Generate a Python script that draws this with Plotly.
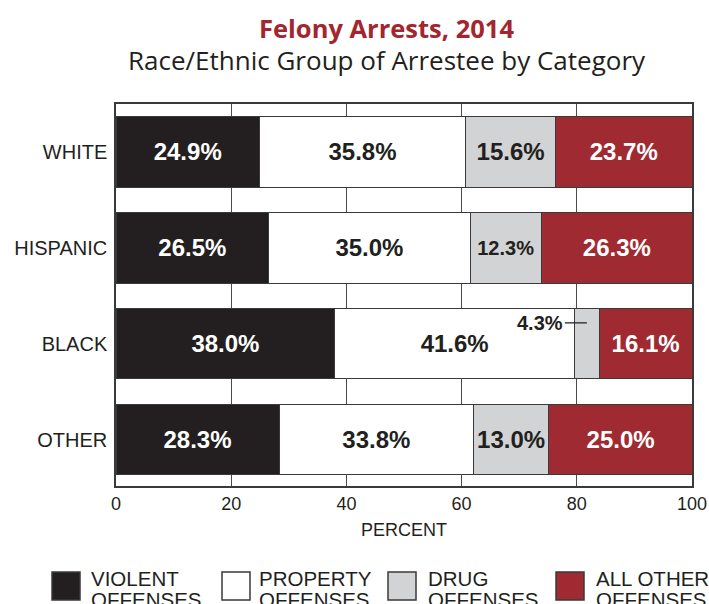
import plotly.graph_objects as go

groups = ["WHITE", "HISPANIC", "BLACK", "OTHER"]
violent = [24.9, 26.5, 38.0, 28.3]
property_ = [35.8, 35.0, 41.6, 33.8]
drug = [15.6, 12.3, 4.3, 13.0]
other = [23.7, 26.3, 16.1, 25.0]
series_names = ["VIOLENT OFFENSES", "PROPERTY OFFENSES", "DRUG OFFENSES", "ALL OTHER OFFENSES"]
x_ticks = [0, 20, 40, 60, 80, 100]

colors = ["#231f20", "#ffffff", "#d1d3d4", "#9f2a32"]
text_colors = ["#ffffff", "#231f20", "#231f20", "#ffffff"]
series = [violent, property_, drug, other]

# plot area in pixels
W, H = 709, 604
L, R, T, B = 116, 692, 104, 486


def px(x):
    return (x - L) / (R - L)


def py(y):
    return (B - y) / (B - T)


fig = go.Figure()
for name, vals, col, tcol in zip(series_names, series, colors, text_colors):
    texts = []
    sizes = []
    for g, v in zip(groups, vals):
        if v < 6:
            texts.append("")
            sizes.append(20)
        elif v < 12.5:
            texts.append(f"{v:.1f}%")
            sizes.append(20)
        else:
            texts.append(f"{v:.1f}%")
            sizes.append(24)
    fig.add_trace(go.Bar(
        y=groups, x=vals, orientation="h", name=name,
        marker=dict(color=col, line=dict(color="#3a3a3a", width=1)),
        text=texts, textposition="inside", insidetextanchor="middle",
        textangle=0,
        textfont=dict(family="Liberation Sans, Arial, sans-serif", size=sizes,
                      color=tcol, weight="bold"),
        width=0.73, showlegend=False, hoverinfo="skip",
    ))

# small-value label with leader line (BLACK drug)
bi = groups.index("BLACK")
fig.add_annotation(
    x=violent[bi] + property_[bi] + drug[bi] / 2, y=groups[bi],
    xref="x", yref="y", text=f"{drug[bi]:.1f}%",
    showarrow=True, arrowhead=0, arrowwidth=1.2, arrowcolor="#231f20",
    ax=-22, ay=0, xanchor="right", yanchor="middle", yshift=21,
    font=dict(family="Liberation Sans, Arial, sans-serif", size=20,
              color="#231f20", weight="bold"),
)

# titles
fig.add_annotation(x=px(386), y=py(28), xref="paper", yref="paper",
                   text="Felony Arrests, 2014", showarrow=False,
                   xanchor="center", yanchor="middle",
                   font=dict(family="Open Sans, sans-serif", size=25.5,
                             color="#a3262f", weight="bold"))
fig.add_annotation(x=px(387), y=py(60), xref="paper", yref="paper",
                   text="Race/Ethnic Group of Arrestee by Category", showarrow=False,
                   xanchor="center", yanchor="middle",
                   font=dict(family="Open Sans, sans-serif", size=26, color="#231f20"))

# axis title
fig.add_annotation(x=px(404), y=py(530), xref="paper", yref="paper",
                   text="PERCENT", showarrow=False, xanchor="center", yanchor="middle",
                   font=dict(family="Liberation Sans, Arial, sans-serif", size=18, color="#231f20"))

# custom legend
leg_x = [52, 222, 388, 556]
leg_text_x = [89, 257, 426, 594]
leg_lines = [["VIOLENT", "OFFENSES"], ["PROPERTY", "OFFENSES"],
             ["DRUG", "OFFENSES"], ["ALL OTHER", "OFFENSES"]]
for sx, tx, lines, col in zip(leg_x, leg_text_x, leg_lines, colors):
    fig.add_shape(type="rect", xref="paper", yref="paper",
                  x0=px(sx), x1=px(sx + 28), y0=py(572), y1=py(600),
                  fillcolor=col, line=dict(color="#3a3a3a", width=1.5))
    for j, ln in enumerate(lines):
        fig.add_annotation(x=px(tx), y=py(578 + 21 * j), xref="paper", yref="paper",
                           text=ln, showarrow=False, xanchor="left", yanchor="middle",
                           font=dict(family="Liberation Sans, Arial, sans-serif",
                                     size=20.5, color="#231f20"))

fig.update_layout(
    barmode="stack",
    width=W, height=H,
    margin=dict(l=L, r=W - R, t=T, b=H - B, autoexpand=False),
    paper_bgcolor="white", plot_bgcolor="white",
    bargap=0.27,
    xaxis=dict(range=[0, 100], tickvals=x_ticks, ticktext=[str(v) for v in x_ticks],
               showgrid=True, gridcolor="#4a4a4a", gridwidth=1,
               showline=True, linecolor="#3a3a3a", linewidth=1.5, mirror=True,
               zeroline=False, ticks="", ticklabelstandoff=1,
               tickfont=dict(family="Liberation Sans, Arial, sans-serif", size=18, color="#231f20")),
    yaxis=dict(categoryorder="array", categoryarray=groups, range=[3.48, -0.5],
               showgrid=False, showline=True, linecolor="#3a3a3a", linewidth=1.5, mirror=True,
               zeroline=False, ticks="", ticklabelstandoff=3,
               tickfont=dict(family="Liberation Sans, Arial, sans-serif", size=20, color="#231f20")),
    showlegend=False,
)

fig.write_html(
    "out.html",
    config={"displayModeBar": False},
    post_script="document.body.style.margin='0';document.body.style.overflow='hidden';",
)
